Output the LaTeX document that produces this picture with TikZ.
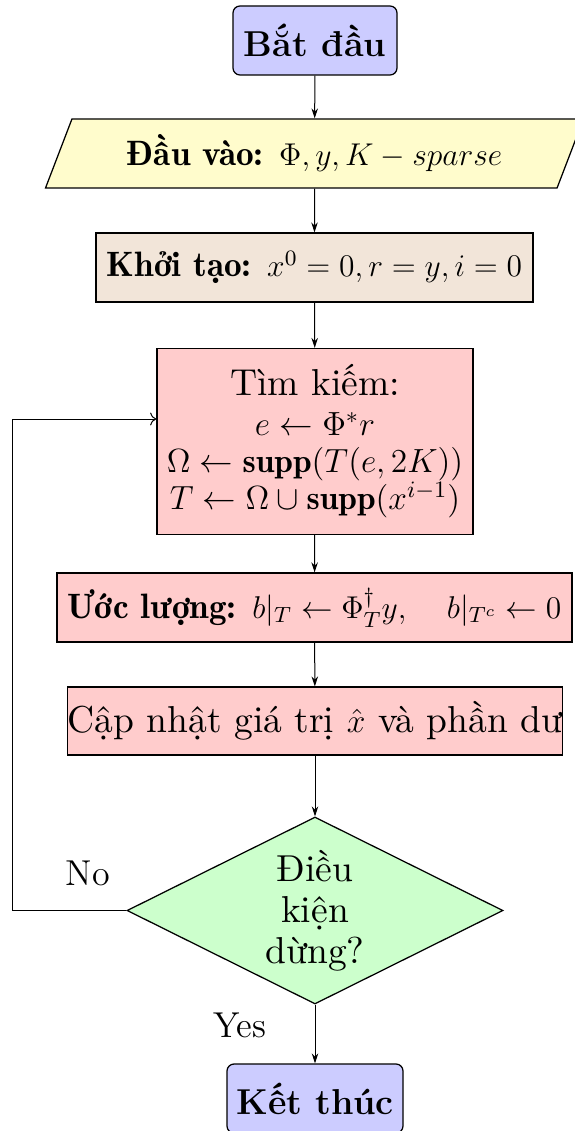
\RequirePackage{fix-cm}
\documentclass[tikz,border=0pt]{standalone}
\usepackage{fontspec}
\usepackage{amsmath}
\newfontfamily\lmten[BoldFont=lmromandemi10-regular.otf]{lmroman10-regular.otf}
\DeclareMathSizes{15}{13.4}{9.4}{6.7}
\DeclareMathSizes{14.1}{12.6}{8.8}{6.3}
\usetikzlibrary{shapes.geometric,arrows.meta}
\begin{document}
\begin{tikzpicture}[x=0.4pt,y=-0.4pt,
  base/.style={draw=black, line width=0.5pt, inner sep=0pt, align=center,
    font=\lmten\fontsize{15}{14.8}\selectfont},
  small/.style={font=\lmten\fontsize{14.1}{14.8}\selectfont},
  term/.style={base, rectangle, rounded corners=2.8pt, fill=blue!20,
    font=\fontsize{14.4}{17}\selectfont\bfseries},
  io/.style={base, small, trapezium, trapezium stretches=true,
    trapezium left angle=61.2, trapezium right angle=118.8, fill=yellow!20},
  init/.style={base, small, rectangle, fill=brown!20},
  proc/.style={base, rectangle, fill=red!20},
  dec/.style={base, diamond, aspect=2, fill=green!20,
    font=\lmten\fontsize{15}{16.4}\selectfont},
  flow/.style={-{Stealth[length=4pt,width=2.6pt]}, line width=0.4pt},
  back/.style={->, line width=0.4pt},
  lbl/.style={inner sep=0pt, font=\fontsize{14.4}{17}\selectfont}]
\useasboundingbox (0,0) rectangle (574,1131);

\node[term, minimum width=65.6pt, minimum height=27.6pt] (start) at (315,40.5) {Bắt đầu};
\node[io, minimum width=215.6pt, minimum height=27.6pt] (input) at (314.5,153.5)
  {\textbf{Đầu vào:} $\Phi, y, K-sparse$};
\node[init, minimum width=174.8pt, minimum height=27.6pt] (initn) at (314.5,267.5)
  {\textbf{Khởi tạo:} $x^0=0, r=y, i=0$};
\node[proc, minimum width=126.4pt, minimum height=74.4pt] (search) at (315,441.5)
  {Tìm kiếm:\\[1.2pt]
   $e \leftarrow \Phi^{*} r$\\
   $\Omega \leftarrow \mathbf{supp}(T(e,2K))$\\
   $T \leftarrow \Omega \cup \mathbf{supp}(x^{i-1})$};
\node[proc, small, minimum width=206pt, minimum height=27.6pt] (est) at (314.5,607.5)
  {\textbf{Ước lượng:} $b|_T \leftarrow \Phi_T^{\dagger} y, \quad b|_{T^c} \leftarrow 0$};
\node[proc, minimum width=197.6pt, minimum height=27.2pt] (upd) at (315,721)
  {Cập nhật giá trị $\hat{x}$ và phần dư};
\node[dec, minimum width=150.4pt, minimum height=74.8pt] (cond) at (315,910.5)
  {Điều\\kiện\\dừng?};
\node[term, minimum width=70.4pt, minimum height=27.6pt] (stop) at (315,1098.5) {Kết thúc};

\draw[flow] (start) -- (input);
\draw[flow] (input) -- (initn);
\draw[flow] (initn) -- (search);
\draw[flow] (search) -- (est);
\draw[flow] (est) -- (upd);
\draw[flow] (upd) -- (cond);
\draw[flow] (cond) -- (stop);

\coordinate (lp) at (12,419);
\draw[back] (cond.west) -| (lp) -- (search.west |- lp);

\node[lbl, anchor=base] (no) at (88,885) {No};
\node[lbl, anchor=base] (yes) at (240,1037) {Yes};
\end{tikzpicture}
\end{document}
